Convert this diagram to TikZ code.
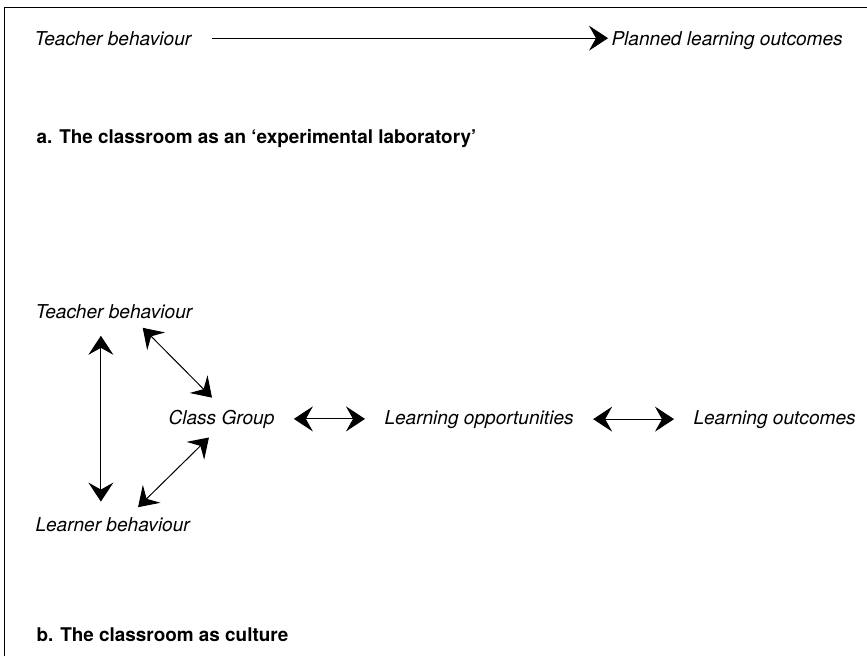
\documentclass[tikz,border=0pt]{standalone}
\usepackage{fontspec}
\setmainfont{TeX Gyre Heros}
\usetikzlibrary{arrows.meta}

\begin{document}
\begin{tikzpicture}[x=1pt,y=-1pt,line width=1pt,
  >={Stealth[length=19pt,width=25pt,inset=7pt]},
  every node/.style={inner sep=0pt,anchor=base west,font=\fontsize{19.1}{22}\selectfont\itshape},
  head/.style={font=\fontsize{18.9}{22}\selectfont\bfseries}]
\useasboundingbox (0,0) rectangle (867,656);
\draw (4,656) -- (4,7) -- (867,7);

\node (t1) at (34,45) {Teacher behaviour};
\node (p1) at (611,45) {Planned learning outcomes};
\node[head] (a) at (36,143) {a. The classroom as an ‘experimental laboratory’};

\node (t2) at (35,318) {Teacher behaviour};
\node (l2) at (35,531) {Learner behaviour};
\node (cg) at (168,424) {Class Group};
\node (lo) at (384,424) {Learning opportunities};
\node (out) at (693,424) {Learning outcomes};
\node[head] (b) at (36,641) {b. The classroom as culture};

\draw[->,shorten <=20pt,shorten >=3pt] (t1.east) -- (t1.east -| p1.west);
\foreach \from/\to in {cg/lo,lo/out}
  \draw[<->,shorten <=19pt,shorten >=19pt] (\from.east) -- (\from.east -| \to.west);
\draw[<->,shorten <=17pt,shorten >=15pt] ([xshift=-13pt]t2.south) -- ([xshift=-13pt]t2.south |- l2.north);
\draw[<->,shorten <=12.7pt,shorten >=16.3pt] ([xshift=-59pt]t2.south east) -- ([xshift=55.5pt]cg.north west);
\draw[<->,shorten <=12.7pt,shorten >=13.4pt] ([xshift=50pt]cg.south west) -- ([xshift=93.5pt]l2.north west);
\end{tikzpicture}
\end{document}
